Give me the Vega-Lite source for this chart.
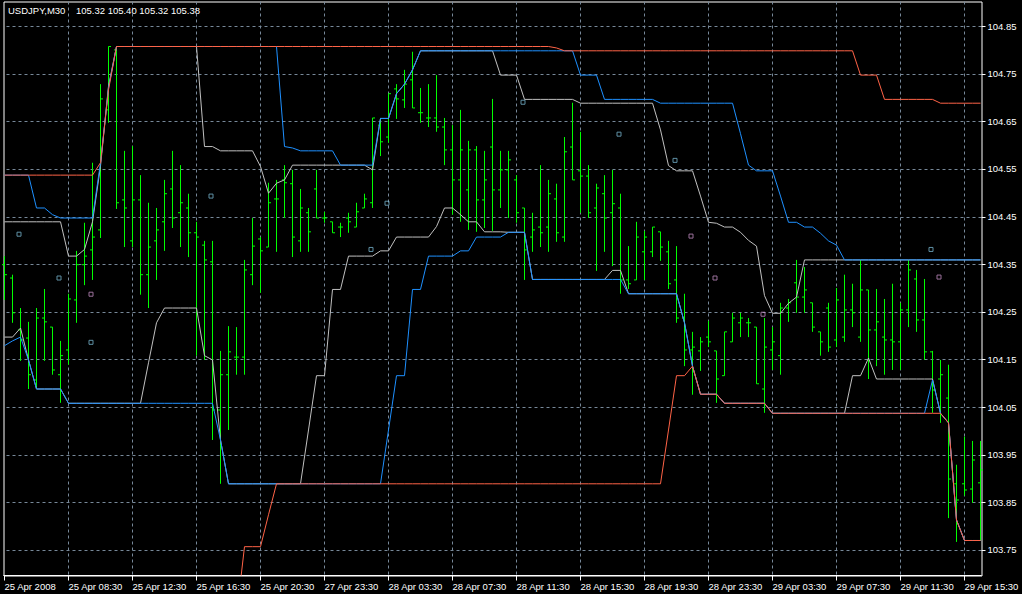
{
"$schema": "https://vega.github.io/schema/vega-lite/v6.json",
"width": 978, "height": 574,
"autosize": {"type": "none"},
"padding": {"left": 3.5, "top": 1.5, "right": 40.5, "bottom": 18.5},
"background": "#000000",
"title": {"text": "USDJPY,M30\u00a0\u00a0\u00a0\u00a0105.32 105.40 105.32 105.38", "anchor": "start", "frame": "group", "orient": "top", "offset": -12, "dy": 10, "dx": 4.5, "baseline": "alphabetic", "color": "#FFFFFF", "font": "Liberation Sans", "fontSize": 9.5, "fontWeight": "normal"},
"config": {"view": {"stroke": "#FFFFFF", "strokeWidth": 1, "fill": "#000000"}, "axis": {"labelFont": "Liberation Sans", "labelFontSize": 9.5, "labelColor": "#FFFFFF"}},
"datasets": {
"bars": [
{"i":0,"o":104.350,"h":104.368,"l":104.276,"c":104.329,"ru":104.538,"rl":103.604,"bu":104.538,"bl":104.180,"gu":104.440,"gl":104.198},
{"i":1,"o":104.322,"h":104.329,"l":104.228,"c":104.249,"ru":104.538,"rl":103.604,"bu":104.538,"bl":104.190,"gu":104.440,"gl":104.198},
{"i":2,"o":104.213,"h":104.259,"l":104.148,"c":104.192,"ru":104.538,"rl":103.604,"bu":104.538,"bl":104.198,"gu":104.440,"gl":104.217},
{"i":3,"o":104.196,"h":104.230,"l":104.089,"c":104.119,"ru":104.538,"rl":103.604,"bu":104.538,"bl":104.150,"gu":104.440,"gl":104.150},
{"i":4,"o":104.108,"h":104.259,"l":104.089,"c":104.238,"ru":104.538,"rl":103.604,"bu":104.469,"bl":104.089,"gu":104.440,"gl":104.089},
{"i":5,"o":104.238,"h":104.299,"l":104.148,"c":104.230,"ru":104.538,"rl":103.604,"bu":104.469,"bl":104.089,"gu":104.440,"gl":104.089},
{"i":6,"o":104.219,"h":104.219,"l":104.119,"c":104.129,"ru":104.538,"rl":103.604,"bu":104.455,"bl":104.089,"gu":104.440,"gl":104.089},
{"i":7,"o":104.119,"h":104.190,"l":104.060,"c":104.159,"ru":104.538,"rl":103.604,"bu":104.448,"bl":104.089,"gu":104.440,"gl":104.089},
{"i":8,"o":104.171,"h":104.289,"l":104.140,"c":104.278,"ru":104.538,"rl":103.604,"bu":104.448,"bl":104.059,"gu":104.368,"gl":104.059},
{"i":9,"o":104.276,"h":104.379,"l":104.228,"c":104.350,"ru":104.538,"rl":103.604,"bu":104.448,"bl":104.059,"gu":104.368,"gl":104.059},
{"i":10,"o":104.350,"h":104.438,"l":104.307,"c":104.368,"ru":104.538,"rl":103.604,"bu":104.448,"bl":104.059,"gu":104.382,"gl":104.059},
{"i":11,"o":104.381,"h":104.564,"l":104.318,"c":104.408,"ru":104.538,"rl":103.604,"bu":104.448,"bl":104.059,"gu":104.440,"gl":104.059},
{"i":12,"o":104.423,"h":104.729,"l":104.406,"c":104.698,"ru":104.564,"rl":103.604,"bu":104.564,"bl":104.059,"gu":104.557,"gl":104.059},
{"i":13,"o":104.675,"h":104.808,"l":104.648,"c":104.808,"ru":104.717,"rl":103.604,"bu":104.721,"bl":104.059,"gu":104.725,"gl":104.059},
{"i":14,"o":104.801,"h":104.805,"l":104.467,"c":104.480,"ru":104.808,"rl":103.604,"bu":104.808,"bl":104.059,"gu":104.808,"gl":104.059},
{"i":15,"o":104.486,"h":104.589,"l":104.387,"c":104.469,"ru":104.808,"rl":103.604,"bu":104.808,"bl":104.059,"gu":104.808,"gl":104.059},
{"i":16,"o":104.400,"h":104.599,"l":104.387,"c":104.486,"ru":104.808,"rl":103.604,"bu":104.808,"bl":104.059,"gu":104.808,"gl":104.059},
{"i":17,"o":104.486,"h":104.538,"l":104.287,"c":104.329,"ru":104.808,"rl":103.604,"bu":104.808,"bl":104.059,"gu":104.808,"gl":104.059},
{"i":18,"o":104.329,"h":104.480,"l":104.259,"c":104.387,"ru":104.808,"rl":103.604,"bu":104.808,"bl":104.059,"gu":104.808,"gl":104.144},
{"i":19,"o":104.400,"h":104.469,"l":104.318,"c":104.423,"ru":104.808,"rl":103.604,"bu":104.808,"bl":104.059,"gu":104.808,"gl":104.228},
{"i":20,"o":104.440,"h":104.528,"l":104.379,"c":104.499,"ru":104.808,"rl":103.604,"bu":104.808,"bl":104.059,"gu":104.808,"gl":104.259},
{"i":21,"o":104.509,"h":104.589,"l":104.427,"c":104.448,"ru":104.808,"rl":103.604,"bu":104.808,"bl":104.059,"gu":104.808,"gl":104.259},
{"i":22,"o":104.459,"h":104.559,"l":104.387,"c":104.480,"ru":104.808,"rl":103.604,"bu":104.808,"bl":104.059,"gu":104.808,"gl":104.259},
{"i":23,"o":104.469,"h":104.499,"l":104.366,"c":104.417,"ru":104.808,"rl":103.604,"bu":104.808,"bl":104.059,"gu":104.808,"gl":104.259},
{"i":24,"o":104.417,"h":104.440,"l":104.159,"c":104.408,"ru":104.808,"rl":103.604,"bu":104.808,"bl":104.059,"gu":104.808,"gl":104.259},
{"i":25,"o":104.391,"h":104.400,"l":104.150,"c":104.360,"ru":104.808,"rl":103.604,"bu":104.808,"bl":104.059,"gu":104.598,"gl":104.159},
{"i":26,"o":104.356,"h":104.400,"l":103.982,"c":104.045,"ru":104.808,"rl":103.604,"bu":104.808,"bl":104.059,"gu":104.598,"gl":104.150},
{"i":27,"o":104.045,"h":104.169,"l":103.890,"c":104.119,"ru":104.808,"rl":103.604,"bu":104.808,"bl":103.982,"gu":104.589,"gl":103.982},
{"i":28,"o":104.119,"h":104.221,"l":104.003,"c":104.167,"ru":104.808,"rl":103.604,"bu":104.808,"bl":103.890,"gu":104.589,"gl":103.890},
{"i":29,"o":104.156,"h":104.219,"l":104.119,"c":104.156,"ru":104.808,"rl":103.613,"bu":104.808,"bl":103.890,"gu":104.589,"gl":103.890},
{"i":30,"o":104.156,"h":104.360,"l":104.119,"c":104.339,"ru":104.808,"rl":103.758,"bu":104.808,"bl":103.890,"gu":104.589,"gl":103.890},
{"i":31,"o":104.329,"h":104.448,"l":104.307,"c":104.389,"ru":104.808,"rl":103.758,"bu":104.808,"bl":103.890,"gu":104.589,"gl":103.890},
{"i":32,"o":104.404,"h":104.408,"l":104.291,"c":104.379,"ru":104.808,"rl":103.758,"bu":104.808,"bl":103.890,"gu":104.556,"gl":103.890},
{"i":33,"o":104.387,"h":104.522,"l":104.387,"c":104.480,"ru":104.808,"rl":103.825,"bu":104.808,"bl":103.890,"gu":104.500,"gl":103.890},
{"i":34,"o":104.488,"h":104.528,"l":104.377,"c":104.488,"ru":104.808,"rl":103.890,"bu":104.808,"bl":103.890,"gu":104.521,"gl":103.890},
{"i":35,"o":104.528,"h":104.559,"l":104.448,"c":104.522,"ru":104.808,"rl":103.890,"bu":104.598,"bl":103.890,"gu":104.528,"gl":103.890},
{"i":36,"o":104.520,"h":104.549,"l":104.366,"c":104.408,"ru":104.808,"rl":103.890,"bu":104.595,"bl":103.890,"gu":104.559,"gl":103.890},
{"i":37,"o":104.400,"h":104.509,"l":104.377,"c":104.469,"ru":104.808,"rl":103.890,"bu":104.589,"bl":103.890,"gu":104.559,"gl":103.890},
{"i":38,"o":104.459,"h":104.469,"l":104.377,"c":104.419,"ru":104.808,"rl":103.890,"bu":104.589,"bl":103.890,"gu":104.559,"gl":104.003},
{"i":39,"o":104.509,"h":104.549,"l":104.448,"c":104.448,"ru":104.808,"rl":103.890,"bu":104.589,"bl":103.890,"gu":104.559,"gl":104.117},
{"i":40,"o":104.448,"h":104.461,"l":104.438,"c":104.448,"ru":104.808,"rl":103.890,"bu":104.589,"bl":103.890,"gu":104.559,"gl":104.117},
{"i":41,"o":104.440,"h":104.440,"l":104.417,"c":104.417,"ru":104.808,"rl":103.890,"bu":104.589,"bl":103.890,"gu":104.559,"gl":104.298},
{"i":42,"o":104.429,"h":104.438,"l":104.408,"c":104.429,"ru":104.808,"rl":103.890,"bu":104.559,"bl":103.890,"gu":104.559,"gl":104.298},
{"i":43,"o":104.448,"h":104.459,"l":104.417,"c":104.440,"ru":104.808,"rl":103.890,"bu":104.559,"bl":103.890,"gu":104.559,"gl":104.368},
{"i":44,"o":104.429,"h":104.480,"l":104.429,"c":104.461,"ru":104.808,"rl":103.890,"bu":104.559,"bl":103.890,"gu":104.559,"gl":104.368},
{"i":45,"o":104.469,"h":104.499,"l":104.469,"c":104.488,"ru":104.808,"rl":103.890,"bu":104.559,"bl":103.890,"gu":104.559,"gl":104.368},
{"i":46,"o":104.480,"h":104.658,"l":104.469,"c":104.658,"ru":104.808,"rl":103.890,"bu":104.559,"bl":103.890,"gu":104.549,"gl":104.368},
{"i":47,"o":104.643,"h":104.658,"l":104.578,"c":104.608,"ru":104.808,"rl":103.890,"bu":104.657,"bl":103.890,"gu":104.657,"gl":104.379},
{"i":48,"o":104.618,"h":104.709,"l":104.606,"c":104.709,"ru":104.808,"rl":103.890,"bu":104.657,"bl":104.003,"gu":104.657,"gl":104.379},
{"i":49,"o":104.719,"h":104.729,"l":104.656,"c":104.698,"ru":104.808,"rl":103.890,"bu":104.709,"bl":104.117,"gu":104.709,"gl":104.408},
{"i":50,"o":104.696,"h":104.759,"l":104.679,"c":104.729,"ru":104.808,"rl":103.890,"bu":104.729,"bl":104.117,"gu":104.729,"gl":104.408},
{"i":51,"o":104.738,"h":104.797,"l":104.679,"c":104.679,"ru":104.808,"rl":103.890,"bu":104.759,"bl":104.298,"gu":104.759,"gl":104.408},
{"i":52,"o":104.669,"h":104.721,"l":104.648,"c":104.669,"ru":104.808,"rl":103.890,"bu":104.799,"bl":104.298,"gu":104.799,"gl":104.408},
{"i":53,"o":104.658,"h":104.729,"l":104.639,"c":104.658,"ru":104.808,"rl":103.890,"bu":104.799,"bl":104.368,"gu":104.799,"gl":104.408},
{"i":54,"o":104.658,"h":104.748,"l":104.629,"c":104.639,"ru":104.808,"rl":103.890,"bu":104.799,"bl":104.368,"gu":104.799,"gl":104.430},
{"i":55,"o":104.639,"h":104.658,"l":104.559,"c":104.591,"ru":104.808,"rl":103.890,"bu":104.799,"bl":104.368,"gu":104.799,"gl":104.469},
{"i":56,"o":104.591,"h":104.643,"l":104.455,"c":104.528,"ru":104.808,"rl":103.890,"bu":104.799,"bl":104.368,"gu":104.799,"gl":104.469},
{"i":57,"o":104.528,"h":104.675,"l":104.440,"c":104.591,"ru":104.808,"rl":103.890,"bu":104.799,"bl":104.379,"gu":104.799,"gl":104.455},
{"i":58,"o":104.507,"h":104.610,"l":104.423,"c":104.591,"ru":104.808,"rl":103.890,"bu":104.799,"bl":104.379,"gu":104.799,"gl":104.440},
{"i":59,"o":104.591,"h":104.599,"l":104.419,"c":104.486,"ru":104.808,"rl":103.890,"bu":104.799,"bl":104.408,"gu":104.799,"gl":104.440},
{"i":60,"o":104.486,"h":104.589,"l":104.427,"c":104.528,"ru":104.808,"rl":103.890,"bu":104.799,"bl":104.408,"gu":104.799,"gl":104.419},
{"i":61,"o":104.597,"h":104.698,"l":104.421,"c":104.507,"ru":104.808,"rl":103.890,"bu":104.799,"bl":104.408,"gu":104.799,"gl":104.419},
{"i":62,"o":104.507,"h":104.589,"l":104.469,"c":104.549,"ru":104.808,"rl":103.890,"bu":104.799,"bl":104.408,"gu":104.748,"gl":104.419},
{"i":63,"o":104.549,"h":104.589,"l":104.448,"c":104.570,"ru":104.808,"rl":103.890,"bu":104.799,"bl":104.418,"gu":104.748,"gl":104.418},
{"i":64,"o":104.528,"h":104.538,"l":104.438,"c":104.459,"ru":104.808,"rl":103.890,"bu":104.799,"bl":104.418,"gu":104.748,"gl":104.418},
{"i":65,"o":104.469,"h":104.469,"l":104.318,"c":104.381,"ru":104.808,"rl":103.890,"bu":104.799,"bl":104.418,"gu":104.697,"gl":104.418},
{"i":66,"o":104.408,"h":104.459,"l":104.377,"c":104.423,"ru":104.808,"rl":103.890,"bu":104.799,"bl":104.319,"gu":104.697,"gl":104.319},
{"i":67,"o":104.429,"h":104.559,"l":104.387,"c":104.417,"ru":104.808,"rl":103.890,"bu":104.799,"bl":104.319,"gu":104.697,"gl":104.319},
{"i":68,"o":104.429,"h":104.528,"l":104.377,"c":104.499,"ru":104.808,"rl":103.890,"bu":104.799,"bl":104.319,"gu":104.697,"gl":104.319},
{"i":69,"o":104.488,"h":104.520,"l":104.398,"c":104.417,"ru":104.805,"rl":103.890,"bu":104.799,"bl":104.319,"gu":104.697,"gl":104.319},
{"i":70,"o":104.408,"h":104.618,"l":104.398,"c":104.587,"ru":104.799,"rl":103.890,"bu":104.799,"bl":104.319,"gu":104.697,"gl":104.319},
{"i":71,"o":104.597,"h":104.690,"l":104.528,"c":104.528,"ru":104.799,"rl":103.890,"bu":104.799,"bl":104.319,"gu":104.697,"gl":104.319},
{"i":72,"o":104.547,"h":104.629,"l":104.459,"c":104.536,"ru":104.799,"rl":103.890,"bu":104.748,"bl":104.319,"gu":104.689,"gl":104.319},
{"i":73,"o":104.536,"h":104.559,"l":104.448,"c":104.459,"ru":104.799,"rl":103.890,"bu":104.748,"bl":104.319,"gu":104.689,"gl":104.319},
{"i":74,"o":104.469,"h":104.520,"l":104.337,"c":104.511,"ru":104.799,"rl":103.890,"bu":104.748,"bl":104.319,"gu":104.689,"gl":104.319},
{"i":75,"o":104.499,"h":104.538,"l":104.377,"c":104.448,"ru":104.799,"rl":103.890,"bu":104.697,"bl":104.319,"gu":104.689,"gl":104.319},
{"i":76,"o":104.459,"h":104.549,"l":104.347,"c":104.478,"ru":104.799,"rl":103.890,"bu":104.697,"bl":104.319,"gu":104.689,"gl":104.338},
{"i":77,"o":104.469,"h":104.499,"l":104.289,"c":104.318,"ru":104.799,"rl":103.890,"bu":104.697,"bl":104.319,"gu":104.689,"gl":104.338},
{"i":78,"o":104.318,"h":104.389,"l":104.299,"c":104.310,"ru":104.799,"rl":103.890,"bu":104.697,"bl":104.289,"gu":104.689,"gl":104.289},
{"i":79,"o":104.318,"h":104.440,"l":104.318,"c":104.408,"ru":104.799,"rl":103.890,"bu":104.697,"bl":104.289,"gu":104.689,"gl":104.289},
{"i":80,"o":104.377,"h":104.421,"l":104.318,"c":104.408,"ru":104.799,"rl":103.890,"bu":104.697,"bl":104.289,"gu":104.689,"gl":104.289},
{"i":81,"o":104.377,"h":104.429,"l":104.366,"c":104.429,"ru":104.799,"rl":103.890,"bu":104.697,"bl":104.289,"gu":104.689,"gl":104.289},
{"i":82,"o":104.419,"h":104.419,"l":104.358,"c":104.387,"ru":104.799,"rl":103.890,"bu":104.689,"bl":104.289,"gu":104.633,"gl":104.289},
{"i":83,"o":104.377,"h":104.400,"l":104.299,"c":104.310,"ru":104.799,"rl":104.003,"bu":104.689,"bl":104.289,"gu":104.558,"gl":104.289},
{"i":84,"o":104.318,"h":104.389,"l":104.228,"c":104.238,"ru":104.799,"rl":104.117,"bu":104.689,"bl":104.289,"gu":104.547,"gl":104.289},
{"i":85,"o":104.238,"h":104.289,"l":104.137,"c":104.171,"ru":104.799,"rl":104.117,"bu":104.689,"bl":104.228,"gu":104.547,"gl":104.228},
{"i":86,"o":104.171,"h":104.209,"l":104.077,"c":104.177,"ru":104.799,"rl":104.137,"bu":104.689,"bl":104.137,"gu":104.547,"gl":104.137},
{"i":87,"o":104.169,"h":104.198,"l":104.127,"c":104.188,"ru":104.799,"rl":104.078,"bu":104.689,"bl":104.078,"gu":104.494,"gl":104.078},
{"i":88,"o":104.198,"h":104.232,"l":104.177,"c":104.188,"ru":104.799,"rl":104.078,"bu":104.689,"bl":104.078,"gu":104.439,"gl":104.078},
{"i":89,"o":104.169,"h":104.169,"l":104.060,"c":104.110,"ru":104.799,"rl":104.078,"bu":104.689,"bl":104.078,"gu":104.437,"gl":104.078},
{"i":90,"o":104.117,"h":104.209,"l":104.117,"c":104.209,"ru":104.799,"rl":104.059,"bu":104.689,"bl":104.059,"gu":104.429,"gl":104.059},
{"i":91,"o":104.188,"h":104.249,"l":104.188,"c":104.238,"ru":104.799,"rl":104.059,"bu":104.689,"bl":104.059,"gu":104.429,"gl":104.059},
{"i":92,"o":104.228,"h":104.249,"l":104.198,"c":104.238,"ru":104.799,"rl":104.059,"bu":104.625,"bl":104.059,"gu":104.418,"gl":104.059},
{"i":93,"o":104.228,"h":104.238,"l":104.198,"c":104.228,"ru":104.799,"rl":104.059,"bu":104.559,"bl":104.059,"gu":104.401,"gl":104.059},
{"i":94,"o":104.219,"h":104.219,"l":104.100,"c":104.100,"ru":104.799,"rl":104.059,"bu":104.547,"bl":104.059,"gu":104.389,"gl":104.059},
{"i":95,"o":104.089,"h":104.238,"l":104.039,"c":104.177,"ru":104.799,"rl":104.059,"bu":104.547,"bl":104.059,"gu":104.285,"gl":104.059},
{"i":96,"o":104.171,"h":104.219,"l":104.129,"c":104.188,"ru":104.799,"rl":104.038,"bu":104.547,"bl":104.038,"gu":104.248,"gl":104.038},
{"i":97,"o":104.159,"h":104.270,"l":104.119,"c":104.259,"ru":104.799,"rl":104.038,"bu":104.494,"bl":104.038,"gu":104.248,"gl":104.038},
{"i":98,"o":104.259,"h":104.278,"l":104.230,"c":104.270,"ru":104.799,"rl":104.038,"bu":104.439,"bl":104.038,"gu":104.269,"gl":104.038},
{"i":99,"o":104.312,"h":104.360,"l":104.249,"c":104.282,"ru":104.799,"rl":104.038,"bu":104.439,"bl":104.038,"gu":104.282,"gl":104.038},
{"i":100,"o":104.282,"h":104.345,"l":104.249,"c":104.297,"ru":104.799,"rl":104.038,"bu":104.429,"bl":104.038,"gu":104.360,"gl":104.038},
{"i":101,"o":104.270,"h":104.270,"l":104.209,"c":104.219,"ru":104.799,"rl":104.038,"bu":104.429,"bl":104.038,"gu":104.360,"gl":104.038},
{"i":102,"o":104.209,"h":104.209,"l":104.159,"c":104.188,"ru":104.799,"rl":104.038,"bu":104.416,"bl":104.038,"gu":104.360,"gl":104.038},
{"i":103,"o":104.259,"h":104.270,"l":104.167,"c":104.177,"ru":104.799,"rl":104.038,"bu":104.400,"bl":104.038,"gu":104.360,"gl":104.038},
{"i":104,"o":104.192,"h":104.301,"l":104.177,"c":104.276,"ru":104.799,"rl":104.038,"bu":104.391,"bl":104.038,"gu":104.360,"gl":104.038},
{"i":105,"o":104.198,"h":104.329,"l":104.188,"c":104.255,"ru":104.799,"rl":104.038,"bu":104.360,"bl":104.038,"gu":104.360,"gl":104.038},
{"i":106,"o":104.255,"h":104.310,"l":104.219,"c":104.249,"ru":104.799,"rl":104.038,"bu":104.360,"bl":104.038,"gu":104.360,"gl":104.117},
{"i":107,"o":104.198,"h":104.360,"l":104.188,"c":104.297,"ru":104.748,"rl":104.038,"bu":104.360,"bl":104.038,"gu":104.360,"gl":104.117},
{"i":108,"o":104.297,"h":104.297,"l":104.110,"c":104.213,"ru":104.748,"rl":104.038,"bu":104.360,"bl":104.038,"gu":104.360,"gl":104.154},
{"i":109,"o":104.213,"h":104.299,"l":104.137,"c":104.230,"ru":104.748,"rl":104.038,"bu":104.360,"bl":104.038,"gu":104.360,"gl":104.110},
{"i":110,"o":104.198,"h":104.278,"l":104.119,"c":104.192,"ru":104.697,"rl":104.038,"bu":104.360,"bl":104.038,"gu":104.360,"gl":104.110},
{"i":111,"o":104.192,"h":104.310,"l":104.129,"c":104.188,"ru":104.697,"rl":104.038,"bu":104.360,"bl":104.038,"gu":104.360,"gl":104.110},
{"i":112,"o":104.188,"h":104.270,"l":104.129,"c":104.255,"ru":104.697,"rl":104.038,"bu":104.360,"bl":104.038,"gu":104.360,"gl":104.110},
{"i":113,"o":104.255,"h":104.360,"l":104.219,"c":104.339,"ru":104.697,"rl":104.038,"bu":104.360,"bl":104.038,"gu":104.360,"gl":104.110},
{"i":114,"o":104.320,"h":104.339,"l":104.209,"c":104.234,"ru":104.697,"rl":104.038,"bu":104.360,"bl":104.038,"gu":104.360,"gl":104.110},
{"i":115,"o":104.234,"h":104.320,"l":104.150,"c":104.167,"ru":104.697,"rl":104.038,"bu":104.360,"bl":104.038,"gu":104.360,"gl":104.110},
{"i":116,"o":104.167,"h":104.169,"l":104.039,"c":104.087,"ru":104.697,"rl":104.038,"bu":104.360,"bl":104.108,"gu":104.360,"gl":104.110},
{"i":117,"o":104.110,"h":104.150,"l":104.018,"c":104.119,"ru":104.689,"rl":104.038,"bu":104.360,"bl":104.038,"gu":104.360,"gl":104.038},
{"i":118,"o":104.070,"h":104.140,"l":103.818,"c":103.900,"ru":104.689,"rl":104.018,"bu":104.360,"bl":104.018,"gu":104.360,"gl":104.018},
{"i":119,"o":103.890,"h":103.930,"l":103.768,"c":103.856,"ru":104.689,"rl":103.814,"bu":104.360,"bl":103.814,"gu":104.360,"gl":103.814},
{"i":120,"o":103.890,"h":103.989,"l":103.865,"c":103.877,"ru":104.689,"rl":103.771,"bu":104.360,"bl":103.771,"gu":104.360,"gl":103.771},
{"i":121,"o":103.879,"h":103.980,"l":103.850,"c":103.940,"ru":104.689,"rl":103.771,"bu":104.360,"bl":103.771,"gu":104.360,"gl":103.771},
{"i":122,"o":103.892,"h":103.980,"l":103.770,"c":103.919,"ru":104.689,"rl":103.771,"bu":104.360,"bl":103.771,"gu":104.360,"gl":103.771}
],
"pts": [
{"i":2,"v":104.414,"k":"a"},{"i":7,"v":104.322,"k":"a"},{"i":11,"v":104.288,"k":"b"},{"i":11,"v":104.187,"k":"a"},
{"i":26,"v":104.494,"k":"a"},{"i":46,"v":104.382,"k":"a"},{"i":48,"v":104.479,"k":"a"},{"i":65,"v":104.691,"k":"a"},
{"i":77,"v":104.624,"k":"a"},{"i":84,"v":104.569,"k":"a"},{"i":86,"v":104.410,"k":"b"},{"i":89,"v":104.322,"k":"b"},
{"i":95,"v":104.246,"k":"b"},{"i":116,"v":104.382,"k":"a"},{"i":117,"v":104.324,"k":"b"}
]
},
"data": {"name": "bars"},
"layer": [
{"mark": {"type": "rule", "color": "#00FF00", "strokeWidth": 1},
 "encoding": {
  "x": {"field": "i", "type": "quantitative", "title": null, "scale": {"domain": [-0.125, 122.125], "nice": false, "zero": false},
   "axis": {"title": null, "orient": "bottom", "translate": 0, "values": [0,4,8,12,16,20,24,28,32,36,40,44,48,52,56,60,64,68,72,76,80,84,88,92,96,100,104,108,112,116,120],
    "grid": true, "gridColor": {"condition": {"test": "datum.value === 0", "value": "rgba(0,0,0,0)"}, "value": "#778899"}, "gridDash": [3,3], "gridWidth": 1,
    "ticks": true, "tickSize": 5, "tickWidth": 1, "tickColor": {"condition": {"test": "datum.value % 8 === 0", "value": "#FFFFFF"}, "value": "rgba(0,0,0,0)"},
    "domain": true, "domainColor": "#FFFFFF", "domainWidth": 1,
    "labelExpr": "datum.value % 8 === 0 ? ['25 Apr 2008','25 Apr 08:30','25 Apr 12:30','25 Apr 16:30','25 Apr 20:30','27 Apr 23:30','28 Apr 03:30','28 Apr 07:30','28 Apr 11:30','28 Apr 15:30','28 Apr 19:30','28 Apr 23:30','29 Apr 03:30','29 Apr 07:30','29 Apr 11:30','29 Apr 15:30'][datum.value / 8] : ''",
    "labelAlign": "left", "labelBaseline": "top", "labelPadding": 1, "labelDx": -1, "labelFlush": false, "labelOverlap": false, "labelBound": false}},
  "y": {"field": "h", "type": "quantitative", "title": null, "scale": {"domain": [103.6975, 104.9025], "nice": false, "zero": false},
   "axis": {"title": null, "orient": "right", "translate": 0, "values": [103.75,103.85,103.95,104.05,104.15,104.25,104.35,104.45,104.55,104.65,104.75,104.85], "format": ".2f",
    "grid": true, "gridColor": "#778899", "gridDash": [3,3], "gridWidth": 1,
    "ticks": true, "tickSize": 4, "tickColor": "#FFFFFF", "domain": false, "labelPadding": 2, "labelBaseline": "middle", "labelFlush": false, "labelOverlap": false}},
  "y2": {"field": "l"}}},
{"mark": {"type": "rule", "color": "#00FF00", "strokeWidth": 1, "xOffset": -2.5},
 "encoding": {"x": {"field": "i", "type": "quantitative", "title": null}, "x2": {"field": "i"}, "y": {"field": "o", "type": "quantitative", "title": null}}},
{"mark": {"type": "rule", "color": "#00FF00", "strokeWidth": 1, "x2Offset": 2.5},
 "encoding": {"x": {"field": "i", "type": "quantitative", "title": null}, "x2": {"field": "i"}, "y": {"field": "c", "type": "quantitative", "title": null}}},
{"mark": {"type": "line", "color": "#C0C0C0", "strokeWidth": 1, "clip": true},
 "encoding": {"x": {"field": "i", "type": "quantitative", "title": null}, "y": {"field": "gu", "type": "quantitative", "title": null}}},
{"mark": {"type": "line", "color": "#C0C0C0", "strokeWidth": 1, "clip": true},
 "encoding": {"x": {"field": "i", "type": "quantitative", "title": null}, "y": {"field": "gl", "type": "quantitative", "title": null}}},
{"mark": {"type": "line", "color": "#1E90FF", "strokeWidth": 1, "clip": true},
 "encoding": {"x": {"field": "i", "type": "quantitative", "title": null}, "y": {"field": "bu", "type": "quantitative", "title": null}}},
{"mark": {"type": "line", "color": "#1E90FF", "strokeWidth": 1, "clip": true},
 "encoding": {"x": {"field": "i", "type": "quantitative", "title": null}, "y": {"field": "bl", "type": "quantitative", "title": null}}},
{"mark": {"type": "line", "color": "#FF6347", "strokeWidth": 1, "clip": true},
 "encoding": {"x": {"field": "i", "type": "quantitative", "title": null}, "y": {"field": "ru", "type": "quantitative", "title": null}}},
{"mark": {"type": "line", "color": "#FF6347", "strokeWidth": 1, "clip": true},
 "encoding": {"x": {"field": "i", "type": "quantitative", "title": null}, "y": {"field": "rl", "type": "quantitative", "title": null}}},
{"data": {"name": "pts"},
 "mark": {"type": "point", "shape": "square", "filled": false, "size": 16, "strokeWidth": 1, "xOffset": -1.5, "clip": true},
 "encoding": {"x": {"field": "i", "type": "quantitative", "title": null}, "y": {"field": "v", "type": "quantitative", "title": null},
  "color": {"field": "k", "type": "nominal", "scale": {"domain": ["a","b"], "range": ["#87CEEB","#DDA0DD"]}, "legend": null}}}
]
}
